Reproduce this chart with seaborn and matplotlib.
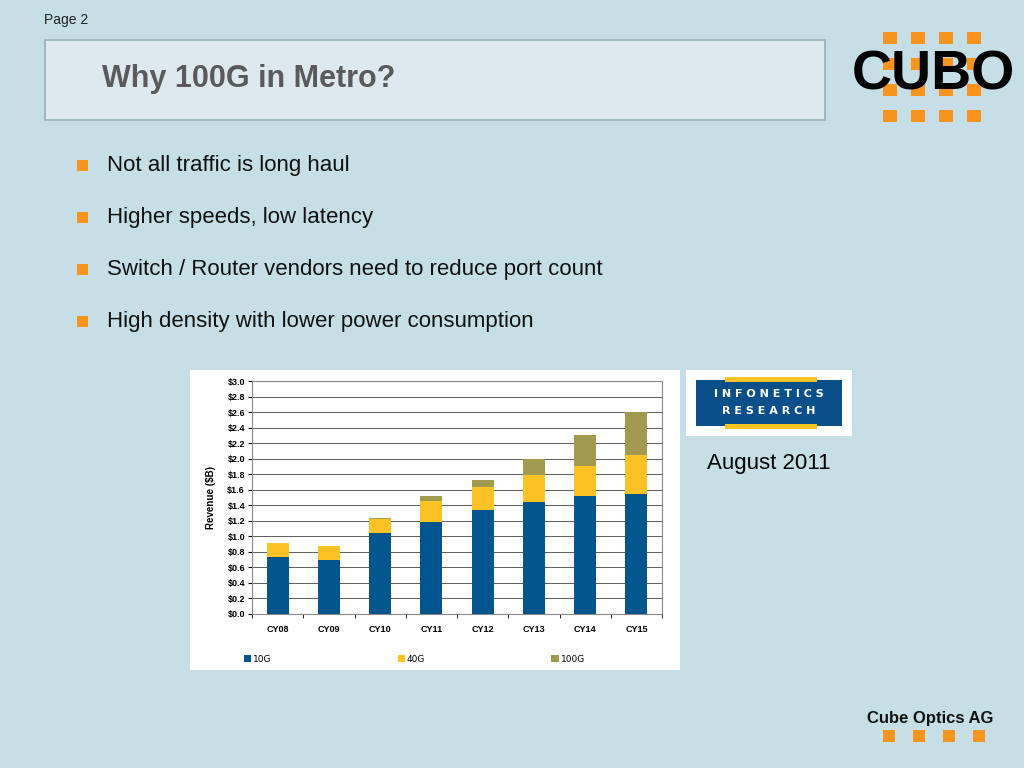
import matplotlib
matplotlib.use("Agg")
import matplotlib.pyplot as plt
import seaborn as sns
import numpy as np
from matplotlib.patches import Rectangle

years = ["CY08", "CY09", "CY10", "CY11", "CY12", "CY13", "CY14", "CY15"]
rev_10g = [0.74, 0.70, 1.04, 1.19, 1.34, 1.44, 1.52, 1.54]
rev_40g = [0.17, 0.17, 0.18, 0.26, 0.30, 0.35, 0.39, 0.51]
rev_100g = [0.00, 0.00, 0.02, 0.07, 0.09, 0.21, 0.40, 0.55]
yticks = [0.0, 0.2, 0.4, 0.6, 0.8, 1.0, 1.2, 1.4, 1.6, 1.8, 2.0, 2.2, 2.4, 2.6, 2.8, 3.0]
bullets = ["Not all traffic is long haul", "Higher speeds, low latency",
           "Switch / Router vendors need to reduce port count",
           "High density with lower power consumption"]

BG = "#c6dfe6"
C10, C40, C100 = "#00558c", "#fdc325", "#a29a50"
ORANGE = "#f7941d"
FONT = "Liberation Sans"

fig = plt.figure(figsize=(10.24, 7.68), dpi=100)
fig.patch.set_facecolor(BG)
W, H = 1024, 768
def fx(x): return x / W
def fy(y): return 1 - y / H
def rect(x, y, w, h, color, ec="none", lw=0, z=-1):
    fig.patches.append(Rectangle((fx(x), fy(y + h)), w / W, h / H, transform=fig.transFigure,
                                 facecolor=color, edgecolor=ec, lw=lw, zorder=z))

fig.text(fx(44), fy(20), "Page 2", fontsize=10, family=FONT, va="center", color="#222222")
rect(45, 40, 780, 80, "#dde9ef", ec="#9ab0b8", lw=1.2)
fig.text(fx(102), fy(79), "Why 100G in Metro?", fontsize=22, fontweight="bold",
         family=FONT, color="#5a5a5a", va="center")

for i in range(4):
    for j in range(4):
        rect(883 + i * 28, 32 + j * 26, 14, 12, ORANGE)
fig.text(fx(933), fy(75), "CUBO", fontsize=40, fontweight="bold", family=FONT,
         color="black", ha="center", va="center", zorder=5)

for k, b in enumerate(bullets):
    y = 166 + k * 52
    rect(77, y - 6, 11, 11, ORANGE)
    fig.text(fx(107), fy(y), b, fontsize=16, family=FONT, va="center", color="#111111")

rect(190, 370, 490, 300, "white")

ax = fig.add_axes([fx(252), fy(614), 410 / W, 233 / H])
tot40 = [a + b for a, b in zip(rev_10g, rev_40g)]
tot100 = [a + c for a, c in zip(tot40, rev_100g)]
sns.barplot(x=years, y=tot100, color=C100, width=0.43, ax=ax, saturation=1, label="100G")
sns.barplot(x=years, y=tot40, color=C40, width=0.43, ax=ax, saturation=1, label="40G")
sns.barplot(x=years, y=rev_10g, color=C10, width=0.43, ax=ax, saturation=1, label="10G")
ax.set_ylim(0, 3.0)
ax.set_yticks(yticks)
ax.set_yticklabels([f"${v:.1f}" for v in yticks], fontsize=6.5, fontweight="bold", family=FONT)
for t in ax.get_xticklabels():
    t.set_fontweight("bold"); t.set_fontsize(6.5); t.set_family(FONT)
ax.set_xticks(np.arange(-0.5, 8, 1), minor=True)
ax.tick_params(axis="x", which="major", length=0, pad=8)
ax.tick_params(axis="x", which="minor", length=3)
ax.tick_params(axis="y", length=3, pad=2)
ax.set_xlim(-0.5, 7.5)
ax.yaxis.grid(True, color="#444444", lw=0.6)
ax.set_axisbelow(True)
for s in ax.spines.values():
    s.set_color("#888888")
ax.set_ylabel("Revenue ($B)", fontsize=7, fontweight="bold", labelpad=8, family=FONT)
ax.set_xlabel("")
h, l = ax.get_legend_handles_labels()
order = [l.index("10G"), l.index("40G"), l.index("100G")]
ax.legend([h[i] for i in order], [l[i] for i in order], loc="upper left",
          bbox_to_anchor=(-0.04, -0.14), ncol=3, frameon=False, fontsize=6.5,
          handlelength=0.8, handleheight=0.8, columnspacing=14, handletextpad=0.2)

rect(686, 370, 166, 66, "white")
rect(696, 380, 146, 46, "#0a4f8a", z=0)
rect(725, 377, 92, 5, "#fdc325", z=1)
rect(725, 424, 92, 5, "#fdc325", z=1)
fig.text(fx(769), fy(394), "I N F O N E T I C S", fontsize=8, fontweight="bold", color="white", ha="center", va="center")
fig.text(fx(769), fy(411), "R E S E A R C H", fontsize=8, fontweight="bold", color="white", ha="center", va="center")
fig.text(fx(769), fy(464), "August 2011", fontsize=16, family=FONT, ha="center", va="center")

fig.text(fx(930), fy(718), "Cube Optics AG", fontsize=12, fontweight="bold", family=FONT,
         ha="center", va="center", color="#111111")
for i in range(4):
    rect(883 + i * 30, 730, 12, 12, ORANGE)

fig.savefig("out.png", dpi=100, facecolor=BG)
